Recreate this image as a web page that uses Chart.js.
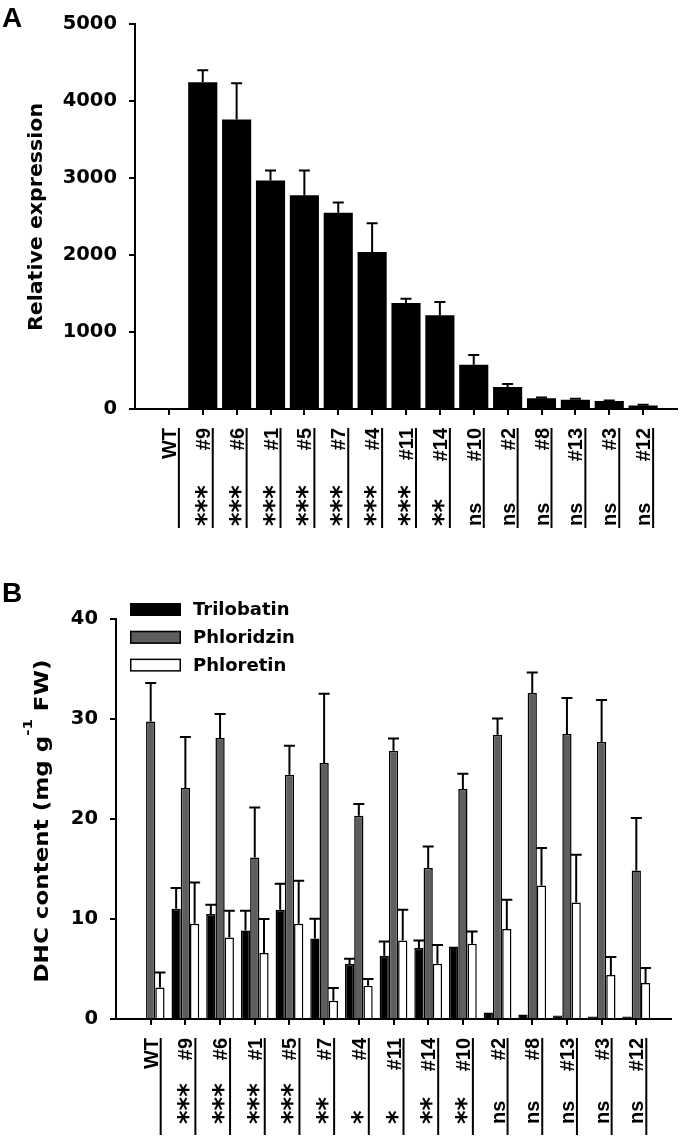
<!DOCTYPE html>
<html>
<head>
<meta charset="utf-8">
<script src="https://cdn.jsdelivr.net/npm/chart.js@4.4.1/dist/chart.umd.min.js"></script>
<style>
  html, body { margin: 0; padding: 0; background: #fff; }
  #wrap { position: relative; width: 681px; height: 1139px; }
  canvas { position: absolute; left: 0; }
</style>
</head>
<body>
<div id="wrap">
  <canvas id="chartA" width="681" height="560" style="top:0"></canvas>
  <canvas id="chartB" width="681" height="579" style="top:560px"></canvas>
</div>
<script>
// lines shown on both panels
const lines = ['WT', '#9', '#6', '#1', '#5', '#7', '#4', '#11', '#14', '#10', '#2', '#8', '#13', '#3', '#12'];

// panel A - relative expression
const expression = [2, 4240, 3756, 2965, 2773, 2547, 2038, 1376, 1218, 573, 286, 141, 120, 103, 47];
const expressionErr = [0, 157, 471, 129, 321, 132, 372, 56, 170, 128, 38, 9, 13, 8, 9];
const sigExpression = ['', '***', '***', '***', '***', '***', '***', '***', '**', 'ns', 'ns', 'ns', 'ns', 'ns', 'ns'];
const expressionTicks = [0, 1000, 2000, 3000, 4000, 5000];

// panel B - DHC content
const trilobatin = [0, 11.03, 10.5, 8.86, 10.93, 8.06, 5.5, 6.33, 7.1, 7.26, 0.66, 0.46, 0.36, 0.25, 0.25];
const trilobatinErr = [0, 2.07, 0.93, 1.97, 2.6, 1.97, 0.53, 1.43, 0.76, 0, 0, 0, 0, 0, 0];
const phloridzin = [29.76, 23.1, 28.1, 16.16, 24.43, 25.6, 20.33, 26.83, 15.1, 23.0, 28.43, 32.6, 28.5, 27.7, 14.86];
const phloridzinErr = [3.84, 5.1, 2.4, 5.0, 2.9, 6.93, 1.17, 1.23, 2.16, 1.53, 1.63, 2.06, 3.6, 4.2, 5.24];
const phloretin = [3.16, 9.53, 8.16, 6.6, 9.53, 1.83, 3.33, 7.86, 5.53, 7.53, 9.0, 13.36, 11.66, 4.4, 3.6];
const phloretinErr = [1.5, 4.13, 2.67, 3.4, 4.3, 1.27, 0.67, 3.07, 1.87, 1.23, 2.93, 3.74, 4.77, 1.8, 1.5];
const sigContent = ['', '***', '***', '***', '***', '**', '*', '*', '**', '**', 'ns', 'ns', 'ns', 'ns', 'ns'];
const contentTicks = [0, 10, 20, 30, 40];

const tickFont = { family: 'DejaVu Sans', size: 19.5, weight: 'bold' };
const toPoints = arr => arr.map((v, i) => ({ x: i, y: v }));

// upper error bars, one per bar
const errorBars = {
  id: 'errorBars',
  afterDatasetsDraw(chart, args, opts) {
    const { ctx } = chart;
    const ys = chart.scales.y;
    ctx.save();
    ctx.strokeStyle = '#000';
    ctx.lineWidth = 2;
    chart.data.datasets.forEach((ds, d) => {
      chart.getDatasetMeta(d).data.forEach((bar, i) => {
        const err = ds.errors[i];
        if (!err) return;
        const yTop = ys.getPixelForValue(ds.data[i].y + err);
        ctx.beginPath();
        ctx.moveTo(bar.x, bar.y);
        ctx.lineTo(bar.x, yTop);
        ctx.moveTo(bar.x - opts.cap, yTop);
        ctx.lineTo(bar.x + opts.cap, yTop);
        ctx.stroke();
      });
    });
    ctx.restore();
  }
};

// rotated, underlined category labels with significance marks
const sigLabels = {
  id: 'sigLabels',
  afterDraw(chart, args, opts) {
    const { ctx } = chart;
    const xs = chart.scales.x;
    const top = chart.chartArea.bottom + opts.gap;
    ctx.save();
    ctx.fillStyle = '#000';
    ctx.strokeStyle = '#000';
    ctx.lineWidth = 2;
    ctx.textBaseline = 'alphabetic';
    opts.names.forEach((name, i) => {
      const mark = opts.marks[i];
      ctx.save();
      ctx.translate(xs.getPixelForValue(i), top);
      ctx.rotate(-Math.PI / 2);
      ctx.font = 'bold 20px "Liberation Sans", Arial, sans-serif';
      ctx.textAlign = 'right';
      ctx.fillText(name, 0, 7);
      if (mark) {
        ctx.textAlign = 'left';
        if (mark[0] === '*') {
          ctx.font = 'bold 26px "DejaVu Sans"';
          ctx.fillText(mark, -opts.textSpan, 12);
        } else {
          ctx.fillText(mark, -opts.textSpan, 7);
        }
      }
      ctx.beginPath();
      ctx.moveTo(0, 10);
      ctx.lineTo(-opts.lineSpan, 10);
      ctx.stroke();
      ctx.restore();
    });
    ctx.restore();
  }
};

// panel letter and rotated y title (with optional superscript)
const panelText = {
  id: 'panelText',
  afterDraw(chart, args, opts) {
    const { ctx } = chart;
    ctx.save();
    ctx.fillStyle = '#000';
    ctx.textBaseline = 'alphabetic';
    ctx.font = 'bold 28px "Liberation Sans", Arial, sans-serif';
    ctx.fillText(opts.letter, 2, opts.letterY);

    let total = 0;
    opts.title.forEach(p => {
      ctx.font = 'bold ' + p.size + 'px "DejaVu Sans"';
      p.w = ctx.measureText(p.text).width;
      total += p.w;
    });
    ctx.translate(opts.titleX, opts.titleY);
    ctx.rotate(-Math.PI / 2);
    ctx.scale(opts.titleLen / total, 1);
    let x = -total / 2;
    opts.title.forEach(p => {
      ctx.font = 'bold ' + p.size + 'px "DejaVu Sans"';
      ctx.fillText(p.text, x, p.rise ? -p.rise : 0);
      x += p.w;
    });
    ctx.restore();
  }
};

// legend boxes for panel B
const boxLegend = {
  id: 'boxLegend',
  afterDraw(chart, args, opts) {
    const { ctx } = chart;
    ctx.save();
    ctx.font = 'bold 18px "DejaVu Sans"';
    ctx.textBaseline = 'middle';
    chart.data.datasets.forEach((ds, i) => {
      const y = opts.top + i * opts.rowGap;
      ctx.fillStyle = ds.backgroundColor;
      ctx.fillRect(opts.left, y, opts.boxW, opts.boxH);
      ctx.lineWidth = 1.5;
      ctx.strokeStyle = '#000';
      ctx.strokeRect(opts.left + 0.75, y + 0.75, opts.boxW - 1.5, opts.boxH - 1.5);
      ctx.fillStyle = '#000';
      ctx.fillText(ds.label, opts.left + opts.boxW + 12, y + opts.boxH / 2 + 1);
    });
    ctx.restore();
  }
};

function xAxis(height) {
  return {
    type: 'linear',
    min: -1,
    max: 15,
    offset: false,
    ticks: { stepSize: 1, display: false },
    grid: {
      offset: false,
      drawOnChartArea: false,
      drawTicks: true,
      tickLength: 6,
      lineWidth: 2,
      color: c => (c.tick && c.tick.value >= 0 && c.tick.value < lines.length) ? '#000' : 'rgba(0,0,0,0)'
    },
    border: { display: true, color: '#000', width: 2 },
    afterFit(s) { s.height = height; }
  };
}

function yAxis(max, step, width) {
  return {
    min: 0,
    max: max,
    ticks: { stepSize: step, font: tickFont, color: '#000', padding: 12, callback: v => String(v) },
    grid: { drawOnChartArea: false, drawTicks: true, tickLength: 6, lineWidth: 2, color: '#000' },
    border: { display: true, color: '#000', width: 2 },
    afterFit(s) { s.width = width; }
  };
}

new Chart(document.getElementById('chartA'), {
  type: 'bar',
  data: {
    datasets: [{
      label: 'Relative expression',
      data: toPoints(expression),
      errors: expressionErr,
      backgroundColor: '#000',
      borderWidth: 0,
      barPercentage: 0.86,
      categoryPercentage: 1
    }]
  },
  options: {
    responsive: false,
    animation: false,
    layout: { padding: { top: 19, right: 4, left: 0, bottom: 0 } },
    scales: {
      x: xAxis(151),
      y: yAxis(expressionTicks[expressionTicks.length - 1], expressionTicks[1] - expressionTicks[0], 135)
    },
    plugins: {
      legend: { display: false },
      tooltip: { enabled: false },
      errorBars: { cap: 5.5 },
      sigLabels: { names: lines, marks: sigExpression, gap: 19, textSpan: 98, lineSpan: 100 },
      panelText: {
        letter: 'A', letterY: 27,
        title: [{ text: 'Relative expression', size: 20 }],
        titleX: 42, titleY: 217, titleLen: 228
      }
    }
  },
  plugins: [errorBars, sigLabels, panelText]
});

new Chart(document.getElementById('chartB'), {
  type: 'bar',
  data: {
    datasets: [
      { label: 'Trilobatin', data: toPoints(trilobatin), errors: trilobatinErr, backgroundColor: '#000000' },
      { label: 'Phloridzin', data: toPoints(phloridzin), errors: phloridzinErr, backgroundColor: '#5e5e5e' },
      { label: 'Phloretin', data: toPoints(phloretin), errors: phloretinErr, backgroundColor: '#ffffff' }
    ]
  },
  options: {
    responsive: false,
    animation: false,
    datasets: { bar: { borderColor: '#000', borderWidth: 1.5, barPercentage: 1, categoryPercentage: 0.8 } },
    layout: { padding: { top: 59, right: 10, left: 0, bottom: 0 } },
    scales: {
      x: xAxis(120),
      y: yAxis(contentTicks[contentTicks.length - 1], contentTicks[1] - contentTicks[0], 116)
    },
    plugins: {
      legend: { display: false },
      tooltip: { enabled: false },
      errorBars: { cap: 5.5 },
      sigLabels: { names: lines, marks: sigContent, gap: 19, textSpan: 86, lineSpan: 97 },
      boxLegend: { left: 130, top: 43, rowGap: 27.8, boxW: 51, boxH: 13 },
      panelText: {
        letter: 'B', letterY: 42,
        title: [
          { text: 'DHC content (mg g', size: 20 },
          { text: '-1', size: 13, rise: 16 },
          { text: ' FW)', size: 20 }
        ],
        titleX: 48, titleY: 261, titleLen: 323
      }
    }
  },
  plugins: [errorBars, sigLabels, boxLegend, panelText]
});
</script>
</body>
</html>
